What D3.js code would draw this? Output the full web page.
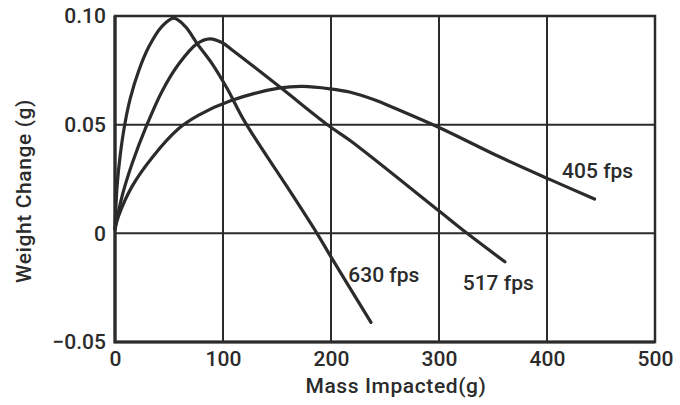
<!DOCTYPE html>
<html>
<head>
<meta charset="utf-8">
<script src="https://cdn.jsdelivr.net/npm/d3@7"></script>
<style>
  body { margin: 0; background: #fff; }
  svg text { font-family: Roboto, "DejaVu Sans", sans-serif; font-weight: 500; fill: #2b2b2b; }
</style>
</head>
<body>
<svg id="chart"></svg>
<script>
// values: [mass impacted (g), weight change (g)]
const fps630 = [[0, 0.002], [1.9, 0.0215], [4.9, 0.0363], [9, 0.05], [14.2, 0.0622], [21.9, 0.0747],
  [31.2, 0.0857], [43.5, 0.0952], [54.4, 0.099], [65, 0.0952], [76, 0.0873], [90, 0.078],
  [104, 0.0665], [120, 0.0515], [159, 0.0217], [187, 0], [199, -0.01], [237, -0.041]];
const fps517 = [[0, 0.002], [6.5, 0.017], [15.7, 0.0319], [29.6, 0.05], [43.5, 0.0653], [59, 0.0779],
  [76, 0.0873], [88, 0.0895], [99, 0.0878], [110, 0.0838], [153, 0.0672], [198, 0.0495],
  [218, 0.0426], [301, 0.0099], [326, 0], [361, -0.0131]];
const fps405 = [[0, 0.002], [3.4, 0.0081], [15.7, 0.0215], [34.3, 0.0348], [59, 0.0482], [77.5, 0.0544],
  [107, 0.061], [153, 0.0669], [174, 0.0676], [199, 0.0665], [218, 0.0649], [242, 0.0611],
  [258, 0.0578], [301, 0.0485], [356.5, 0.0351], [403, 0.0247], [444, 0.0158]];

const seriesNames = ["630 fps", "517 fps", "405 fps"];
const xTicks = [0, 100, 200, 300, 400, 500];
const yTicks = [-0.05, 0, 0.05, 0.1];

// where each curve's label starts (data units)
const labelAt = [[216, -0.0224], [322, -0.026], [414, 0.0254]];

const width = 680,
  height = 405;
const margin = { top: 16, right: 25, bottom: 63, left: 115 };

const x = d3.scaleLinear().domain([0, 500]).range([margin.left, width - margin.right]);
const y = d3.scaleLinear().domain([-0.05, 0.1]).range([height - margin.bottom, margin.top]);

const ink = "#2b2b2b";

const svg = d3.select("#chart").attr("width", width).attr("height", height);

// grid
svg.append("g")
  .selectAll("line")
  .data(xTicks.slice(1, -1))
  .join("line")
  .attr("x1", (d) => x(d)).attr("x2", (d) => x(d))
  .attr("y1", y(0.1)).attr("y2", y(-0.05))
  .attr("stroke", ink).attr("stroke-width", 2);

svg.append("g")
  .selectAll("line")
  .data(yTicks.slice(1, -1))
  .join("line")
  .attr("x1", x(0)).attr("x2", x(500))
  .attr("y1", (d) => y(d)).attr("y2", (d) => y(d))
  .attr("stroke", ink).attr("stroke-width", 2);

// frame
svg.append("rect")
  .attr("x", x(0)).attr("y", y(0.1))
  .attr("width", x(500) - x(0)).attr("height", y(-0.05) - y(0.1))
  .attr("fill", "none").attr("stroke", ink).attr("stroke-width", 2.5);
svg.append("path")
  .attr("d", `M${x(0)},${y(0.1)}V${y(-0.05)}H${x(500)}`)
  .attr("fill", "none").attr("stroke", ink).attr("stroke-width", 3.2);

// axes (labels only)
const xAxis = svg.append("g")
  .attr("transform", `translate(0,${y(-0.05)})`)
  .call(d3.axisBottom(x).tickValues(xTicks).tickSize(0).tickPadding(9));
xAxis.select(".domain").remove();
xAxis.selectAll("text").attr("font-size", 21).attr("font-family", null).attr("fill", ink);

const fmtY = (d) => (d === 0 ? "0" : d3.format(".2f")(d));
const yAxis = svg.append("g")
  .attr("transform", `translate(${x(0)},0)`)
  .call(d3.axisLeft(y).tickValues(yTicks).tickFormat(fmtY).tickSize(0).tickPadding(9));
yAxis.select(".domain").remove();
yAxis.selectAll("text").attr("font-size", 21).attr("font-family", null).attr("fill", ink);

// curves
const line = d3.line()
  .x((d) => x(d[0]))
  .y((d) => y(d[1]))
  .curve(d3.curveCatmullRom.alpha(0.5));

svg.append("g")
  .selectAll("path")
  .data([fps630, fps517, fps405])
  .join("path")
  .attr("d", line)
  .attr("fill", "none")
  .attr("stroke", ink)
  .attr("stroke-width", 3.2)
  .attr("stroke-linecap", "round")
  .attr("stroke-linejoin", "round");

svg.append("g")
  .selectAll("text")
  .data(seriesNames)
  .join("text")
  .attr("x", (d, i) => x(labelAt[i][0]))
  .attr("y", (d, i) => y(labelAt[i][1]))
  .attr("font-size", 21)
  .text((d) => d);

// axis titles
svg.append("text")
  .attr("x", 396)
  .attr("y", 393)
  .attr("text-anchor", "middle")
  .attr("font-size", 21)
  .attr("letter-spacing", 0.6)
  .text("Mass Impacted(g)");

svg.append("text")
  .attr("transform", `translate(31,${191}) rotate(-90)`)
  .attr("text-anchor", "middle")
  .attr("font-size", 21)
  .attr("letter-spacing", 0.6)
  .text("Weight Change (g)");
</script>
</body>
</html>
